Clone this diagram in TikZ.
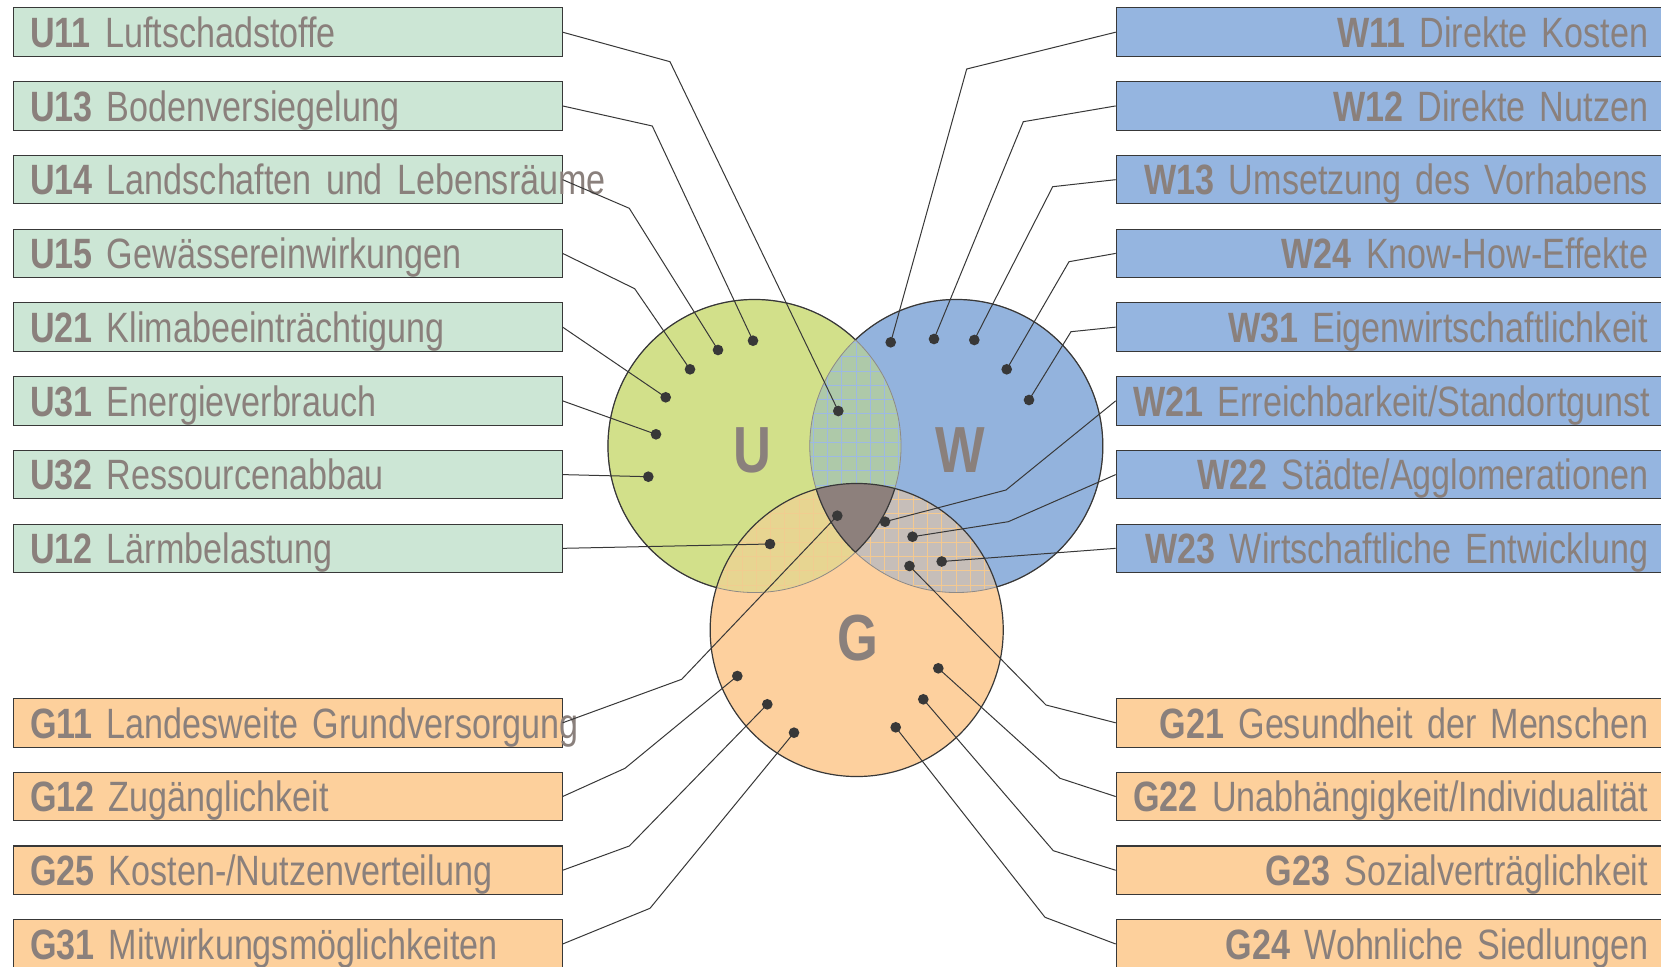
\documentclass[tikz,border=0pt]{standalone}
\usepackage{fontspec}
\newfontfamily\narrowsf{Liberation Sans}[FakeStretch=0.805]
\usetikzlibrary{positioning}

\definecolor{txtgray}{HTML}{8A807C}
\definecolor{ufill}{HTML}{D2E08A}
\definecolor{wfill}{HTML}{93B3DD}
\definecolor{gfill}{HTML}{FDD09E}
\definecolor{uboxfill}{HTML}{CCE6D5}
\definecolor{wboxfill}{HTML}{95B5E0}
\definecolor{gboxfill}{HTML}{FDD09C}
\definecolor{uwfill}{HTML}{AEC9A9}
\definecolor{ugfill}{HTML}{E7D591}
\definecolor{wgfill}{HTML}{C6BEB9}
\definecolor{uwgfill}{HTML}{8D807C}
\definecolor{bluegrid}{HTML}{9DB9E3}
\definecolor{orangegrid}{HTML}{F4C990}
\definecolor{edge}{HTML}{383838}
\definecolor{softedge}{HTML}{8E8A86}

\newcommand\labelfont{\narrowsf\fontsize{31.8}{34}\selectfont}

\begin{document}
\begin{tikzpicture}[x=0.75pt,y=-0.75pt,
  every node/.style={inner sep=0pt},
  lab/.style={draw=edge,line width=0.8pt,text width=386pt,inner xsep=12.9pt,inner ysep=0pt,
    text height=29.6pt,text depth=6.8pt,text=txtgray,font=\labelfont},
  ulab/.style={lab,fill=uboxfill,align=left},
  wlab/.style={lab,fill=wboxfill,align=right},
  glab/.style={lab,fill=gboxfill,align=left},
  glabr/.style={lab,fill=gboxfill,align=right},
  setname/.style={text=txtgray,font=\narrowsf\bfseries\fontsize{48.9}{50}\selectfont},
  dot/.style={circle,fill=edge,minimum size=8pt},
  con/.style={draw=edge,line width=0.75pt},
  ring/.style={line width=0.9pt},
  node distance=18.1pt
]
\useasboundingbox (0,0) rectangle (1661,967);
\fill[white] (0,0) rectangle (1661,967);

% the three sets
\coordinate (cu) at (754.5,446);
\coordinate (cw) at (956.3,446);
\coordinate (cg) at (856.7,630);
\def\vr{109.9pt}

\fill[ufill] (cu) circle[radius=\vr];
\fill[wfill] (cw) circle[radius=\vr];
\fill[gfill] (cg) circle[radius=\vr];

% overlaps
\begin{scope}
  \clip (cu) circle[radius=\vr];
  \clip (cw) circle[radius=\vr];
  \fill[uwfill] (600,250) rectangle (1100,800);
  \draw[bluegrid,line width=0.5pt,step=10.7pt] (600,800) grid (1100,250);
\end{scope}
\begin{scope}
  \clip (cu) circle[radius=\vr];
  \clip (cg) circle[radius=\vr];
  \fill[ugfill] (600,250) rectangle (1100,800);
  \draw[orangegrid!70!ugfill,line width=0.5pt,step=10.7pt] (600,800) grid (1100,250);
\end{scope}
\begin{scope}
  \clip (cw) circle[radius=\vr];
  \clip (cg) circle[radius=\vr];
  \fill[wgfill] (600,250) rectangle (1100,800);
  \draw[orangegrid,line width=0.5pt,step=10.7pt] (600,800) grid (1100,250);
\end{scope}
\begin{scope}
  \clip (cu) circle[radius=\vr];
  \clip (cw) circle[radius=\vr];
  \fill[uwgfill] (cg) circle[radius=\vr];
\end{scope}

% outlines
\draw[softedge,line width=0.6pt] (cu) circle[radius=\vr] (cw) circle[radius=\vr];
\begin{scope}[even odd rule]
  \clip (-20,-20) rectangle (1700,1000) (cw) circle[radius=\vr];
  \clip (-20,-20) rectangle (1700,1000) (cg) circle[radius=\vr];
  \draw[edge,ring] (cu) circle[radius=\vr];
\end{scope}
\begin{scope}[even odd rule]
  \clip (-20,-20) rectangle (1700,1000) (cu) circle[radius=\vr];
  \clip (-20,-20) rectangle (1700,1000) (cg) circle[radius=\vr];
  \draw[edge,ring] (cw) circle[radius=\vr];
\end{scope}
\begin{scope}
  \clip (cw) circle[radius=\vr];
  \clip (cg) circle[radius=\vr];
  \draw[edge,ring] (cu) circle[radius=\vr];
\end{scope}
\begin{scope}
  \clip (cu) circle[radius=\vr];
  \clip (cg) circle[radius=\vr];
  \draw[edge,ring] (cw) circle[radius=\vr];
\end{scope}
\draw[edge,ring] (cg) circle[radius=\vr];

\node[setname] (nu) at (752,450) {U};
\node[setname] (nw) at (960,450) {W};
\node[setname] (ng) at (858,638) {G};

% left column
\node[ulab,anchor=north west] (u11) at (12.5,7.4) {\mbox{\textbf{U11} Luftschadstoffe}};
\node[ulab,below=of u11] (u13) {\mbox{\textbf{U13} Bodenversiegelung}};
\node[ulab,below=of u13] (u14) {\mbox{\textbf{U14} Landschaften und Lebensräume}};
\node[ulab,below=of u14] (u15) {\mbox{\textbf{U15} Gewässereinwirkungen}};
\node[ulab,below=of u15] (u21) {\mbox{\textbf{U21} Klimabeeinträchtigung}};
\node[ulab,below=of u21] (u31) {\mbox{\textbf{U31} Energieverbrauch}};
\node[ulab,below=of u31] (u32) {\mbox{\textbf{U32} Ressourcenabbau}};
\node[ulab,below=of u32] (u12) {\mbox{\textbf{U12} Lärmbelastung}};

\node[glab,anchor=north west] (g11) at (12.5,698) {\mbox{\textbf{G11} Landesweite Grundversorgung}};
\node[glab,below=of g11] (g12) {\mbox{\textbf{G12} Zugänglichkeit}};
\node[glab,below=of g12] (g25) {\mbox{\textbf{G25} Kosten-/Nutzenverteilung}};
\node[glab,below=of g25] (g31) {\mbox{\textbf{G31} Mitwirkungsmöglichkeiten}};

% right column
\node[wlab,anchor=north west] (w11) at (1115.7,7.4) {\mbox{\textbf{W11} Direkte Kosten}};
\node[wlab,below=of w11] (w12) {\mbox{\textbf{W12} Direkte Nutzen}};
\node[wlab,below=of w12] (w13) {\mbox{\textbf{W13} Umsetzung des Vorhabens}};
\node[wlab,below=of w13] (w24) {\mbox{\textbf{W24} Know-How-Effekte}};
\node[wlab,below=of w24] (w31) {\mbox{\textbf{W31} Eigenwirtschaftlichkeit}};
\node[wlab,below=of w31] (w21) {\mbox{\textbf{W21} Erreichbarkeit/Standortgunst}};
\node[wlab,below=of w21] (w22) {\mbox{\textbf{W22} Städte/Agglomerationen}};
\node[wlab,below=of w22] (w23) {\mbox{\textbf{W23} Wirtschaftliche Entwicklung}};

\node[glabr,anchor=north west] (g21) at (1115.7,698) {\mbox{\textbf{G21} Gesundheit der Menschen}};
\node[glabr,below=of g21] (g22) {\mbox{\textbf{G22} Unabhängigkeit/Individualität}};
\node[glabr,below=of g22] (g23) {\mbox{\textbf{G23} Sozialverträglichkeit}};
\node[glabr,below=of g23] (g24) {\mbox{\textbf{G24} Wohnliche Siedlungen}};

% dots
\node[dot] (du11) at (838.3,411) {};
\node[dot] (du13) at (753,340.7) {};
\node[dot] (du14) at (718,350) {};
\node[dot] (du15) at (690,369.3) {};
\node[dot] (du21) at (665.7,397.3) {};
\node[dot] (du31) at (656,434.3) {};
\node[dot] (du32) at (648.3,476.7) {};
\node[dot] (du12) at (770,544) {};
\node[dot] (dw11) at (890.7,342.3) {};
\node[dot] (dw12) at (934,339) {};
\node[dot] (dw13) at (974.3,340) {};
\node[dot] (dw24) at (1006.7,369.3) {};
\node[dot] (dw31) at (1029,400) {};
\node[dot] (dw21) at (885,521.7) {};
\node[dot] (dw22) at (912.5,536.7) {};
\node[dot] (dw23) at (941.7,561.5) {};
\node[dot] (dg11) at (837.3,515.7) {};
\node[dot] (dg12) at (737.3,676) {};
\node[dot] (dg25) at (767.3,704.3) {};
\node[dot] (dg31) at (794,732.7) {};
\node[dot] (dg21) at (909.5,566) {};
\node[dot] (dg22) at (938.3,668.3) {};
\node[dot] (dg23) at (923.3,699.3) {};
\node[dot] (dg24) at (895.7,727.3) {};

% connectors
\draw[con] (u11.east) -- (670,61.7) -- (du11.center);
\draw[con] (u13.east) -- (652.3,126) -- (du13.center);
\draw[con] (u14.east) -- (629.3,208.3) -- (du14.center);
\draw[con] (u15.east) -- (634.7,288.7) -- (du15.center);
\draw[con] (u21.east) -- (du21.center);
\draw[con] (u31.east) -- (du31.center);
\draw[con] (u32.east) -- (du32.center);
\draw[con] (u12.east) -- (du12.center);

\draw[con] (w11.west) -- (966.7,69) -- (dw11.center);
\draw[con] (w12.west) -- (1023.3,121.7) -- (dw12.center);
\draw[con] (w13.west) -- (1052.7,186.7) -- (dw13.center);
\draw[con] (w24.west) -- (1069,261.7) -- (dw24.center);
\draw[con] (w31.west) -- (1071,331.7) -- (dw31.center);
\draw[con] (w21.west) -- (1006,490) -- (dw21.center);
\draw[con] (w22.west) -- (1008.3,521.7) -- (dw22.center);
\draw[con] (w23.west) -- (dw23.center);

\draw[con] (g11.east) -- (681.7,679.3) -- (dg11.center);
\draw[con] (g12.east) -- (625,768.3) -- (dg12.center);
\draw[con] (g25.east) -- (629.3,846) -- (dg25.center);
\draw[con] (g31.east) -- (650,908.3) -- (dg31.center);
\draw[con] (g21.west) -- (1046,705) -- (dg21.center);
\draw[con] (g22.west) -- (1060,778.3) -- (dg22.center);
\draw[con] (g23.west) -- (1053.3,850.7) -- (dg23.center);
\draw[con] (g24.west) -- (1045,917.3) -- (dg24.center);
\end{tikzpicture}
\end{document}
